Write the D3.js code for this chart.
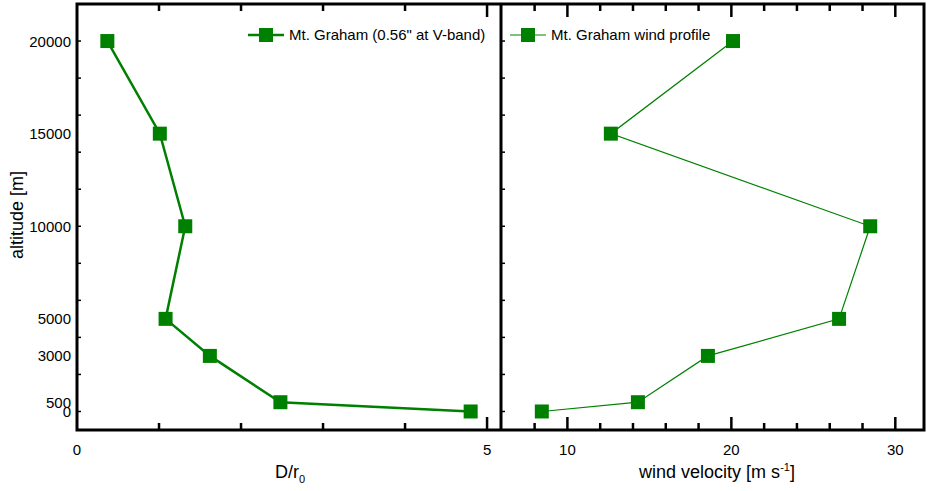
<!DOCTYPE html>
<html>
<head>
<meta charset="utf-8">
<script src="https://cdn.jsdelivr.net/npm/d3@7"></script>
<style>
  html, body { margin: 0; padding: 0; background: #fff; }
  svg { display: block; font-family: "Liberation Sans", Arial, sans-serif; }
</style>
</head>
<body>
<svg id="chart" width="927" height="491"></svg>
<script>
// Altitude levels (m) shared by both profiles
const altitudes = [20000, 15000, 10000, 5000, 3000, 500, 0];
// Seeing contribution D/r0 per level
const dOverR0 = [0.37, 1.01, 1.32, 1.08, 1.62, 2.48, 4.80];
// Wind velocity per level (m/s)
const windSpeed = [20.1, 12.65, 28.47, 26.57, 18.57, 14.3, 8.44];

const altitudeTickLabels = [20000, 15000, 10000, 5000, 3000, 500, 0];
const altitudeMinorTicks = [0, 2000, 4000, 6000, 8000, 10000, 12000, 14000, 16000, 18000, 20000];
const ratioTickLabels = [0, 5];
const ratioMinorTicks = [1, 2, 3, 4];
const windTickLabels = [10, 20, 30];
const windMinorTicks = [8, 12, 14, 16, 18, 22, 24, 26, 28];

const legendLeft = "Mt. Graham (0.56\" at V-band)";
const legendRight = "Mt. Graham wind profile";

const green = "#008000";
const svg = d3.select("#chart");

const plotTop = 4, plotBottom = 430, plotLeft = 77, plotMid = 501, plotRight = 924;

const y = d3.scaleLinear().domain([-1000, 22000]).range([plotBottom, plotTop]);
const xL = d3.scaleLinear().domain([0, 5.17]).range([plotLeft, plotMid]);
const xR = d3.scaleLinear().domain([5.95, 31.75]).range([plotMid, plotRight]);

// Inward ticks along top and bottom edges of a panel
function xTicks(scale, minor, major) {
  const g = svg.append("g").attr("stroke", "#000").attr("stroke-width", 2.5);
  minor.forEach(v => {
    g.append("line").attr("x1", scale(v)).attr("x2", scale(v)).attr("y1", plotBottom).attr("y2", plotBottom - 7);
    g.append("line").attr("x1", scale(v)).attr("x2", scale(v)).attr("y1", plotTop).attr("y2", plotTop + 7);
  });
  major.forEach(v => {
    g.append("line").attr("x1", scale(v)).attr("x2", scale(v)).attr("y1", plotBottom).attr("y2", plotBottom - 13);
    g.append("line").attr("x1", scale(v)).attr("x2", scale(v)).attr("y1", plotTop).attr("y2", plotTop + 13);
  });
}
xTicks(xL, ratioMinorTicks, [5]);
xTicks(xR, windMinorTicks, windTickLabels);

// Altitude ticks on the left edge of each panel
[plotLeft, plotMid].forEach(x0 => {
  svg.append("g").selectAll("line").data(altitudeMinorTicks).join("line")
    .attr("x1", x0).attr("x2", x0 + 4)
    .attr("y1", d => y(d)).attr("y2", d => y(d))
    .attr("stroke", "#000").attr("stroke-width", 1.5);
});

// Panel frames
const frame = svg.append("g").attr("fill", "none").attr("stroke", "#000").attr("stroke-width", 3);
frame.append("rect").attr("x", plotLeft).attr("y", plotTop).attr("width", plotRight - plotLeft).attr("height", plotBottom - plotTop);
frame.append("line").attr("x1", plotMid).attr("x2", plotMid).attr("y1", plotTop).attr("y2", plotBottom);

// Tick labels
svg.append("g").selectAll("text").data(altitudeTickLabels).join("text")
  .attr("x", 71).attr("y", d => y(d) + 5.5)
  .attr("text-anchor", "end").attr("font-size", 15).text(d => d);
svg.append("g").selectAll("text").data(ratioTickLabels).join("text")
  .attr("x", d => xL(d)).attr("y", 455)
  .attr("text-anchor", "middle").attr("font-size", 15).text(d => d);
svg.append("g").selectAll("text").data(windTickLabels).join("text")
  .attr("x", d => xR(d)).attr("y", 455)
  .attr("text-anchor", "middle").attr("font-size", 15).text(d => d);

// Axis titles
svg.append("text").attr("transform", "translate(23,215) rotate(-90)")
  .attr("text-anchor", "middle").attr("font-size", 18).text("altitude [m]");
const t1 = svg.append("text").attr("x", 290).attr("y", 478).attr("text-anchor", "middle").attr("font-size", 18);
t1.append("tspan").text("D/r");
t1.append("tspan").attr("font-size", 11).attr("dy", 5).text("0");
const t2 = svg.append("text").attr("x", 717).attr("y", 478).attr("text-anchor", "middle").attr("font-size", 18);
t2.append("tspan").text("wind velocity [m s");
t2.append("tspan").attr("font-size", 11).attr("dy", -7).text("-1");
t2.append("tspan").attr("dy", 7).text("]");

// Profiles
function profile(values, xs, width) {
  const pts = values.map((v, i) => [xs(v), y(altitudes[i])]);
  svg.append("path").attr("d", d3.line()(pts))
    .attr("fill", "none").attr("stroke", green).attr("stroke-width", width);
  svg.append("g").selectAll("rect").data(pts).join("rect")
    .attr("x", d => d[0] - 7).attr("y", d => d[1] - 7)
    .attr("width", 14).attr("height", 14).attr("fill", green);
}
profile(dOverR0, xL, 2.5);
profile(windSpeed, xR, 1.2);

// Legends
function legend(x0, yc, label, width) {
  svg.append("line").attr("x1", x0).attr("x2", x0 + 36).attr("y1", yc).attr("y2", yc)
    .attr("stroke", green).attr("stroke-width", width);
  svg.append("rect").attr("x", x0 + 11).attr("y", yc - 7).attr("width", 14).attr("height", 14).attr("fill", green);
  svg.append("text").attr("x", x0 + 41).attr("y", yc + 5).attr("font-size", 15).text(label);
}
legend(248, 35, legendLeft, 2.5);
legend(510, 35, legendRight, 1.2);
</script>
</body>
</html>
